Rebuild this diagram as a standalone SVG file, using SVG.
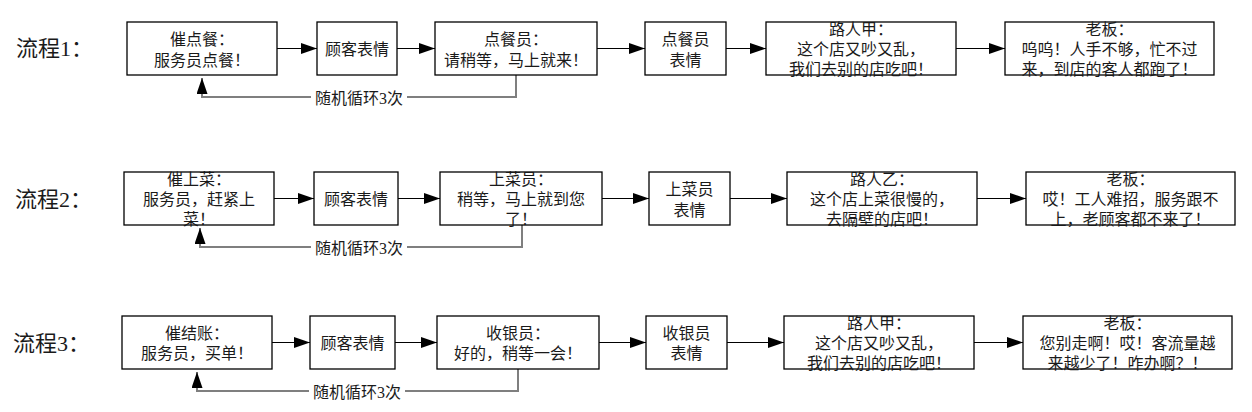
<svg xmlns="http://www.w3.org/2000/svg" width="1252" height="412" viewBox="0 0 1252 412">
<style>
.bg{fill:#ffffff}
.box{fill:#ffffff;stroke:#000000;stroke-width:1.3}
.t{font-family:'Liberation Serif','Noto Sans CJK SC',serif;font-size:16px;fill:#1a1a1a;text-anchor:middle}
.lab{font-family:'Liberation Serif','Noto Sans CJK SC',serif;font-size:22px;fill:#1a1a1a}
.ll{font-family:'Liberation Serif','Noto Sans CJK SC',serif;font-size:16px;fill:#1a1a1a;text-anchor:middle}
.flow{fill:none;stroke:#000000;stroke-width:1.2}
.loop{fill:none;stroke:#7f7f7f;stroke-width:2}
.lbg{fill:#ffffff}
</style>
<defs>
<marker id="ah" markerUnits="userSpaceOnUse" viewBox="0 0 16 11" refX="16" refY="5.5" markerWidth="16" markerHeight="11" orient="auto">
<path d="M0,0 L16,5.5 L0,11 z" fill="#000000"/>
</marker>
</defs>
<rect class="bg" x="0" y="0" width="1252" height="412"/>

<g id="row-labels">
<text class="lab" x="16" y="56">流程1：</text>
<text class="lab" x="15" y="207">流程2：</text>
<text class="lab" x="13" y="351">流程3：</text>
</g>

<g id="connectors">
<!-- row 1 -->
<line class="flow" x1="277" y1="48.5" x2="317" y2="48.5" marker-end="url(#ah)"/>
<line class="flow" x1="397" y1="48.5" x2="435" y2="48.5" marker-end="url(#ah)"/>
<line class="flow" x1="597" y1="48.5" x2="645" y2="48.5" marker-end="url(#ah)"/>
<line class="flow" x1="726" y1="48.5" x2="766" y2="48.5" marker-end="url(#ah)"/>
<line class="flow" x1="956" y1="48.5" x2="1005" y2="48.5" marker-end="url(#ah)"/>
<path class="loop" d="M516,75 L516,97 L202,97 L202,78" marker-end="url(#ah)"/>
<rect class="lbg" x="311" y="89" width="96" height="17"/>
<text class="ll" x="359" y="104">随机循环3次</text>
<!-- row 2 -->
<line class="flow" x1="274" y1="198.5" x2="314" y2="198.5" marker-end="url(#ah)"/>
<line class="flow" x1="398" y1="198.5" x2="440" y2="198.5" marker-end="url(#ah)"/>
<line class="flow" x1="602" y1="198.5" x2="649" y2="198.5" marker-end="url(#ah)"/>
<line class="flow" x1="730" y1="198.5" x2="787" y2="198.5" marker-end="url(#ah)"/>
<line class="flow" x1="977" y1="198.5" x2="1026" y2="198.5" marker-end="url(#ah)"/>
<path class="loop" d="M522,225 L522,247 L200,247 L200,228" marker-end="url(#ah)"/>
<rect class="lbg" x="311" y="239" width="96" height="17"/>
<text class="ll" x="359" y="254">随机循环3次</text>
<!-- row 3 -->
<line class="flow" x1="272" y1="342.5" x2="310" y2="342.5" marker-end="url(#ah)"/>
<line class="flow" x1="395" y1="342.5" x2="437" y2="342.5" marker-end="url(#ah)"/>
<line class="flow" x1="599" y1="342.5" x2="646" y2="342.5" marker-end="url(#ah)"/>
<line class="flow" x1="727" y1="342.5" x2="784" y2="342.5" marker-end="url(#ah)"/>
<line class="flow" x1="974" y1="342.5" x2="1023" y2="342.5" marker-end="url(#ah)"/>
<path class="loop" d="M518,369 L518,391 L197,391 L197,372" marker-end="url(#ah)"/>
<rect class="lbg" x="309" y="383" width="96" height="17"/>
<text class="ll" x="357" y="398">随机循环3次</text>
</g>

<!-- Row 1 nodes -->
<g id="r1n1"><rect class="box" x="127" y="22" width="150" height="53"/>
<text class="t" x="202" y="44.5">催点餐：</text><text class="t" x="202" y="66">服务员点餐！</text></g>
<g id="r1n2"><rect class="box" x="317" y="22" width="80" height="53"/>
<text class="t" x="357" y="54.5">顾客表情</text></g>
<g id="r1n3"><rect class="box" x="435" y="22" width="162" height="53"/>
<text class="t" x="516" y="44.5">点餐员：</text><text class="t" x="516" y="66">请稍等，马上就来！</text></g>
<g id="r1n4"><rect class="box" x="645" y="22" width="81" height="53"/>
<text class="t" x="685.5" y="44.5">点餐员</text><text class="t" x="685.5" y="65.5">表情</text></g>
<g id="r1n5"><rect class="box" x="766" y="22" width="190" height="53"/>
<text class="t" x="861" y="34.5">路人甲：</text><text class="t" x="861" y="54.5">这个店又吵又乱，</text><text class="t" x="861" y="74.5">我们去别的店吃吧！</text></g>
<g id="r1n6"><rect class="box" x="1005" y="22" width="209" height="53"/>
<text class="t" x="1109.5" y="34.5">老板：</text><text class="t" x="1109.5" y="54.5">呜呜！人手不够，忙不过</text><text class="t" x="1109.5" y="74.5">来，到店的客人都跑了！</text></g>

<!-- Row 2 nodes -->
<g id="r2n1"><rect class="box" x="124" y="172" width="150" height="53"/>
<text class="t" x="199" y="184.5">催上菜：</text><text class="t" x="199" y="205">服务员，赶紧上</text><text class="t" x="199" y="224.5">菜！</text></g>
<g id="r2n2"><rect class="box" x="314" y="172" width="84" height="53"/>
<text class="t" x="356" y="204.5">顾客表情</text></g>
<g id="r2n3"><rect class="box" x="440" y="172" width="162" height="53"/>
<text class="t" x="521" y="184.5">上菜员：</text><text class="t" x="521" y="205">稍等，马上就到您</text><text class="t" x="521" y="224.5">了！</text></g>
<g id="r2n4"><rect class="box" x="649" y="172" width="81" height="53"/>
<text class="t" x="689.5" y="194.5">上菜员</text><text class="t" x="689.5" y="215.5">表情</text></g>
<g id="r2n5"><rect class="box" x="787" y="172" width="190" height="53"/>
<text class="t" x="882" y="184.5">路人乙：</text><text class="t" x="882" y="204.5">这个店上菜很慢的，</text><text class="t" x="882" y="224.5">去隔壁的店吧！</text></g>
<g id="r2n6"><rect class="box" x="1026" y="172" width="209" height="53"/>
<text class="t" x="1130.5" y="184.5">老板：</text><text class="t" x="1130.5" y="204.5">哎！工人难招，服务跟不</text><text class="t" x="1130.5" y="224.5">上，老顾客都不来了！</text></g>

<!-- Row 3 nodes -->
<g id="r3n1"><rect class="box" x="122" y="316" width="150" height="53"/>
<text class="t" x="197" y="338.5">催结账：</text><text class="t" x="197" y="359">服务员，买单！</text></g>
<g id="r3n2"><rect class="box" x="310" y="316" width="85" height="53"/>
<text class="t" x="352.5" y="348.5">顾客表情</text></g>
<g id="r3n3"><rect class="box" x="437" y="316" width="162" height="53"/>
<text class="t" x="518" y="338.5">收银员：</text><text class="t" x="518" y="359">好的，稍等一会！</text></g>
<g id="r3n4"><rect class="box" x="646" y="316" width="81" height="53"/>
<text class="t" x="686.5" y="338.5">收银员</text><text class="t" x="686.5" y="359">表情</text></g>
<g id="r3n5"><rect class="box" x="784" y="316" width="190" height="53"/>
<text class="t" x="879" y="328.5">路人甲：</text><text class="t" x="879" y="348.5">这个店又吵又乱，</text><text class="t" x="879" y="369">我们去别的店吃吧！</text></g>
<g id="r3n6"><rect class="box" x="1023" y="316" width="209" height="53"/>
<text class="t" x="1127.5" y="328.5">老板：</text><text class="t" x="1127.5" y="348.5">您别走啊！哎！客流量越</text><text class="t" x="1127.5" y="369">来越少了！咋办啊？！</text></g>
</svg>
